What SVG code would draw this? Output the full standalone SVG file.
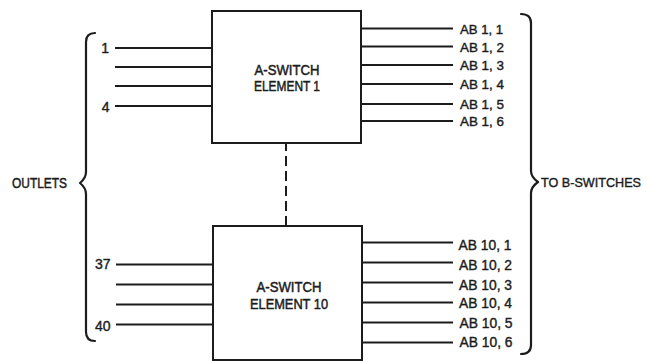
<svg xmlns="http://www.w3.org/2000/svg" width="647" height="361" viewBox="0 0 647 361">
<style>
.bg{fill:#ffffff}
.box{fill:#ffffff;stroke:#1c1c1c;stroke-width:2}
.ln{stroke:#1c1c1c;stroke-width:2;fill:none}
.dash{stroke:#1c1c1c;stroke-width:2;fill:none;stroke-dasharray:10 5;stroke-dashoffset:2}
.br{stroke:#1c1c1c;stroke-width:2.2;fill:none;stroke-linecap:round;stroke-linejoin:round}
text{font-family:"Liberation Sans",Arial,sans-serif;font-size:14px;fill:#1c1c1c;stroke:#1c1c1c;stroke-width:0.4}
.big{font-size:15px;stroke-width:0.5}
.s13{font-size:13px}
.c{text-anchor:middle}
.e{text-anchor:end}
</style>
<rect class="bg" x="0" y="0" width="647" height="361"/>

<g id="switch1">
  <rect class="box" x="212" y="11" width="149" height="132"/>
  <text class="c big" x="287" y="74.5" textLength="65" lengthAdjust="spacingAndGlyphs">A-SWITCH</text>
  <text class="c big" x="287" y="91" textLength="66" lengthAdjust="spacingAndGlyphs">ELEMENT 1</text>
</g>

<g id="switch10">
  <rect class="box" x="213" y="226" width="149" height="134"/>
  <text class="c big" x="289" y="292" textLength="65" lengthAdjust="spacingAndGlyphs">A-SWITCH</text>
  <text class="c big" x="289" y="309" textLength="78" lengthAdjust="spacingAndGlyphs">ELEMENT 10</text>
</g>

<g id="connectors">
  <line class="dash" x1="286" y1="143" x2="286" y2="226"/>
  <line class="ln" x1="115" y1="48" x2="212" y2="48"/>
  <line class="ln" x1="115" y1="67" x2="212" y2="67"/>
  <line class="ln" x1="115" y1="86" x2="212" y2="86"/>
  <line class="ln" x1="115" y1="106" x2="212" y2="106"/>
  <line class="ln" x1="116" y1="264.5" x2="213" y2="264.5"/>
  <line class="ln" x1="116" y1="284.5" x2="213" y2="284.5"/>
  <line class="ln" x1="116" y1="304.5" x2="213" y2="304.5"/>
  <line class="ln" x1="116" y1="324.5" x2="213" y2="324.5"/>
  <line class="ln" x1="361" y1="28.5" x2="453" y2="28.5"/>
  <line class="ln" x1="361" y1="46.5" x2="453" y2="46.5"/>
  <line class="ln" x1="361" y1="65" x2="453" y2="65"/>
  <line class="ln" x1="361" y1="84" x2="453" y2="84"/>
  <line class="ln" x1="361" y1="104" x2="453" y2="104"/>
  <line class="ln" x1="361" y1="121" x2="453" y2="121"/>
  <line class="ln" x1="362" y1="242.5" x2="453" y2="242.5"/>
  <line class="ln" x1="362" y1="262.5" x2="453" y2="262.5"/>
  <line class="ln" x1="362" y1="282.5" x2="453" y2="282.5"/>
  <line class="ln" x1="362" y1="302.5" x2="453" y2="302.5"/>
  <line class="ln" x1="362" y1="322.5" x2="453" y2="322.5"/>
  <line class="ln" x1="362" y1="342.5" x2="453" y2="342.5"/>
</g>

<g id="input-labels">
  <text class="e" x="109" y="53">1</text>
  <text class="e" x="109.5" y="111.5">4</text>
  <text class="e" x="110.5" y="269">37</text>
  <text class="e" x="110.5" y="330.5">40</text>
</g>

<g id="output-labels">
  <text class="s13" x="460" y="33.5" textLength="43" lengthAdjust="spacingAndGlyphs">AB 1, 1</text>
  <text class="s13" x="460" y="51.5" textLength="44" lengthAdjust="spacingAndGlyphs">AB 1, 2</text>
  <text class="s13" x="460" y="70" textLength="44" lengthAdjust="spacingAndGlyphs">AB 1, 3</text>
  <text class="s13" x="460" y="88.5" textLength="44" lengthAdjust="spacingAndGlyphs">AB 1, 4</text>
  <text class="s13" x="460" y="108.5" textLength="44" lengthAdjust="spacingAndGlyphs">AB 1, 5</text>
  <text class="s13" x="460" y="126" textLength="44" lengthAdjust="spacingAndGlyphs">AB 1, 6</text>
  <text x="458.5" y="250" textLength="53" lengthAdjust="spacingAndGlyphs">AB 10, 1</text>
  <text x="459" y="269.5" textLength="53" lengthAdjust="spacingAndGlyphs">AB 10, 2</text>
  <text x="459" y="289.5" textLength="53" lengthAdjust="spacingAndGlyphs">AB 10, 3</text>
  <text x="459" y="307.5" textLength="53" lengthAdjust="spacingAndGlyphs">AB 10, 4</text>
  <text x="459.5" y="327.5" textLength="53" lengthAdjust="spacingAndGlyphs">AB 10, 5</text>
  <text x="459.5" y="347" textLength="53" lengthAdjust="spacingAndGlyphs">AB 10, 6</text>
</g>

<g id="outlets">
  <path class="br" d="M 95 33 Q 86 33 86 42 L 86 172 Q 86 178 80 183 Q 86 188 86 194 L 86 332 Q 86 341 95 341"/>
  <text class="big" x="12" y="187.5" textLength="55" lengthAdjust="spacingAndGlyphs">OUTLETS</text>
</g>

<g id="to-b-switches">
  <path class="br" d="M 521 14 Q 531 14 531 23 L 531 171 Q 531 177 538 182 Q 531 187 531 193 L 531 345 Q 531 354 521 354"/>
  <text class="s13" x="541" y="187" textLength="100" lengthAdjust="spacingAndGlyphs">TO B-SWITCHES</text>
</g>
</svg>
